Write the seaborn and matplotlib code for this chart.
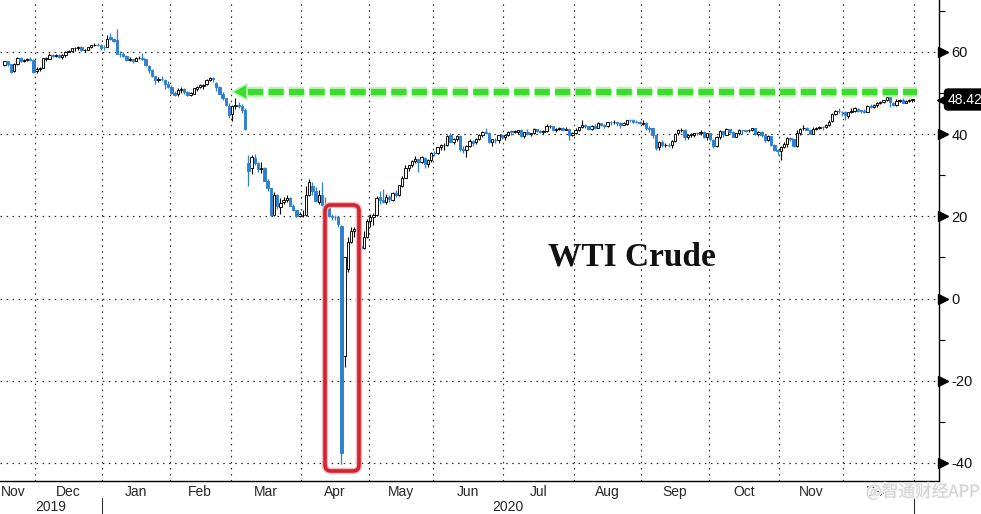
import numpy as np
import pandas as pd
import matplotlib
matplotlib.use("Agg")
import matplotlib.pyplot as plt
import matplotlib.transforms as mtransforms
from matplotlib.patches import FancyBboxPatch, Polygon
import matplotlib.patheffects as pe
import seaborn as sns

# ---------------- data (WTI Crude, daily candles) ----------------
holidays = ["2019-11-28", "2019-12-25", "2020-01-01", "2020-01-20", "2020-02-17",
            "2020-04-10", "2020-05-25", "2020-07-03", "2020-09-07", "2020-11-26",
            "2020-12-25"]
start_date = "2019-11-15"
end_date = "2020-12-31"

opens = [
    # Nov 2019
    56.90, 57.70, 57.00, 55.30, 57.10, 58.50, 57.80, 58.00, 58.40, 58.10,
    # Dec 2019
    55.30, 55.90, 56.20, 58.40, 58.40, 59.20, 59.00, 59.20, 58.80, 59.20, 60.10,
    60.20, 60.90, 60.90, 61.20, 60.40, 60.50, 61.10, 61.70, 61.70, 61.70,
    # Jan 2020
    61.20, 61.20, 63.70, 63.20, 62.80, 59.60, 59.50, 59.00, 58.10, 58.20, 57.80,
    58.50, 58.60, 58.30, 56.70, 55.60, 54.10, 53.10, 53.50, 53.30, 52.10,
    # Feb
    51.60, 50.10, 49.70, 50.80, 50.90, 50.30, 49.60, 49.90, 51.10, 51.40,
    51.80, 52.10, 53.30, 53.70, 52.50, 51.40, 49.90, 48.70, 46.90,
    # Mar
    44.90, 46.80, 47.10, 46.80, 45.90, 32.90, 31.70, 34.30, 33.00, 31.50, 31.70,
    28.70, 26.90, 20.40, 25.20, 22.40, 23.40, 24.00, 24.50, 22.60, 21.50, 20.10,
    # Apr
    20.30, 20.30, 25.30, 27.50, 26.10, 23.60, 25.10, 22.80, 22.40, 20.10, 19.90,
    19.80, 17.70, -14.00, 7.20, 13.80, 16.50, 16.90, 12.80, 12.30, 15.10,
    # May
    18.80, 19.80, 20.40, 24.60, 24.00, 23.60, 24.70, 24.10, 25.80, 25.30,
    27.50, 29.40, 31.80, 32.50, 33.50, 33.90, 33.30, 34.30, 32.80, 33.70,
    # Jun
    35.50, 35.40, 36.80, 37.30, 37.40, 39.80, 38.20, 38.90, 39.60, 36.30, 36.20,
    37.10, 38.40, 38.00, 38.80, 39.80, 40.50, 40.40, 38.00, 38.70, 38.50, 39.70,
    # Jul
    39.30, 39.80, 40.70, 40.60, 40.60, 40.90, 39.60, 40.60, 40.10, 40.30, 41.20,
    40.70, 40.60, 40.80, 41.90, 41.90, 41.10, 41.30, 41.60, 41.00, 41.30, 39.90,
    # Aug
    40.30, 41.00, 41.70, 42.20, 41.90, 41.20, 41.90, 41.60, 42.70, 42.20, 42.00,
    42.90, 42.90, 42.90, 42.80, 42.30, 42.60, 43.40, 43.40, 43.00, 43.00,
    # Sep
    42.60, 42.80, 41.50, 41.40, 39.80, 36.80, 38.00, 37.30, 37.30, 37.30, 38.30,
    40.20, 41.00, 41.10, 39.30, 39.80, 39.90, 40.30, 40.30, 40.60, 39.30,
    # Oct
    40.20, 38.70, 37.10, 39.20, 40.70, 39.90, 41.20, 40.60, 39.40, 40.20, 41.00,
    40.90, 40.90, 41.00, 41.40, 40.00, 40.60, 39.80, 38.60, 39.60, 37.40, 36.20,
    # Nov
    35.80, 36.80, 37.70, 39.10, 38.80, 37.10, 40.30, 41.40, 41.40, 41.10,
    40.10, 41.30, 41.40, 41.80, 41.70, 42.20, 43.10, 44.90, 45.70, 45.50,
    # Dec
    45.30, 44.50, 45.30, 45.60, 46.20, 45.80, 45.60, 45.50, 46.80, 46.60, 47.00,
    47.60, 47.80, 48.40, 49.10, 47.70, 47.00, 48.10, 48.20, 47.60, 48.00, 48.40,
]

highs = [
    # Nov 2019
    57.85, 57.90, 57.20, 57.30, 58.70, 58.70, 58.30, 58.50, 58.70, 58.20,
    # Dec 2019
    56.30, 56.30, 58.60, 58.80, 59.80, 59.40, 59.40, 59.40, 59.50, 60.30, 60.50,
    61.00, 61.20, 61.40, 61.40, 60.70, 61.20, 61.80, 62.30, 62.30, 61.90,
    # Jan 2020
    61.60, 64.10, 64.70, 63.50, 65.65, 60.30, 59.90, 59.30, 58.70, 58.40, 58.90,
    59.00, 59.70, 58.40, 56.80, 55.80, 54.20, 53.90, 54.10, 53.40, 52.90,
    # Feb
    51.90, 50.60, 51.30, 51.60, 51.20, 50.50, 50.30, 51.30, 51.70, 52.20,
    52.30, 53.50, 54.00, 53.90, 52.70, 51.80, 50.30, 48.80, 47.50,
    # Mar
    47.20, 48.70, 47.80, 47.30, 46.40, 34.90, 34.90, 35.30, 33.20, 33.20, 31.90,
    29.10, 27.00, 26.00, 25.50, 24.50, 24.80, 25.20, 24.80, 22.90, 21.60, 21.00,
    # Apr
    21.60, 27.40, 29.10, 28.30, 27.20, 26.40, 28.40, 24.70, 22.60, 20.50, 20.30,
    20.00, 17.90, 10.18, 15.00, 17.50, 17.50, 17.00, 13.60, 16.50, 19.30,
    # May
    20.50, 20.80, 25.00, 26.10, 26.70, 25.40, 25.10, 26.00, 26.50, 27.60,
    29.90, 32.50, 32.60, 33.60, 34.70, 34.00, 34.80, 34.50, 34.00, 35.60,
    # Jun
    35.90, 36.90, 37.70, 37.80, 39.70, 40.40, 39.00, 39.80, 39.60, 37.10, 37.40,
    38.90, 38.50, 39.00, 40.00, 40.70, 41.60, 40.50, 38.90, 39.00, 39.80, 40.00,
    # Jul
    40.10, 40.80, 41.00, 41.00, 41.00, 41.30, 40.60, 41.30, 40.40, 41.40, 41.30,
    40.90, 40.90, 42.50, 42.30, 42.00, 41.50, 41.80, 41.70, 41.70, 41.30, 40.50,
    # Aug
    41.40, 41.80, 43.50, 42.40, 42.00, 42.30, 42.40, 42.90, 42.80, 42.40, 42.90,
    43.10, 43.40, 43.00, 42.90, 43.00, 43.50, 43.80, 43.70, 43.40, 43.20,
    # Sep
    43.50, 42.90, 41.90, 41.50, 39.80, 38.40, 38.50, 37.90, 37.90, 38.50, 40.30,
    41.20, 41.50, 41.20, 40.00, 40.30, 40.40, 40.50, 40.90, 40.80, 40.40,
    # Oct
    40.40, 38.90, 39.50, 40.90, 40.80, 41.40, 41.30, 40.70, 40.30, 41.20, 41.10,
    41.00, 41.30, 41.60, 41.50, 40.80, 40.70, 39.90, 39.80, 39.60, 37.50, 36.30,
    # Nov
    37.20, 38.10, 39.40, 39.40, 38.90, 41.00, 41.60, 42.30, 41.70, 41.30,
    41.70, 41.70, 42.00, 41.90, 42.40, 43.40, 45.20, 46.00, 46.30, 45.60,
    # Dec
    45.60, 45.40, 46.30, 46.70, 46.40, 45.90, 46.20, 47.00, 47.30, 47.40, 47.80,
    48.00, 48.40, 49.30, 49.20, 47.90, 48.60, 48.60, 48.90, 48.30, 48.50, 48.60,
]

lows = [
    # Nov 2019
    56.60, 56.50, 55.00, 55.20, 56.90, 57.50, 57.50, 57.70, 57.80, 55.00,
    # Dec 2019
    55.00, 55.40, 56.00, 57.80, 58.30, 58.80, 58.70, 58.50, 58.40, 58.90, 59.90,
    60.00, 60.20, 60.60, 60.20, 60.10, 60.40, 61.00, 61.40, 61.50, 60.60,
    # Jan 2020
    60.60, 61.10, 62.80, 62.40, 59.60, 58.80, 58.80, 57.90, 57.70, 57.40, 57.70,
    58.20, 58.00, 56.60, 55.00, 53.90, 52.10, 52.60, 52.90, 50.90, 51.20,
    # Feb
    49.90, 49.30, 49.40, 50.10, 49.90, 49.30, 49.40, 49.80, 50.40, 51.20,
    51.00, 52.00, 52.90, 52.80, 50.50, 49.70, 48.40, 46.90, 44.00,
    # Mar
    43.30, 46.20, 46.40, 45.20, 41.10, 27.30, 30.30, 32.50, 30.70, 30.60, 28.50,
    26.10, 20.10, 20.00, 21.70, 20.50, 23.00, 23.40, 22.50, 21.30, 19.90, 19.90,
    # Apr
    19.90, 20.10, 24.90, 25.30, 23.40, 23.00, 22.60, 21.80, 19.90, 19.20, 19.20,
    17.30, -40.32, -16.70, 6.50, 13.50, 15.10, 12.00, 10.10, 12.00, 14.80,
    # May
    17.30, 18.00, 20.00, 23.00, 23.30, 23.00, 23.50, 23.80, 24.80, 24.90,
    27.20, 29.30, 31.00, 31.90, 33.10, 30.70, 32.90, 31.70, 32.10, 33.20,
    # Jun
    34.80, 35.10, 36.10, 36.10, 37.20, 38.00, 37.50, 38.30, 36.00, 35.50, 34.40,
    37.00, 37.20, 37.60, 38.60, 39.30, 40.00, 37.80, 37.10, 37.90, 37.90, 38.80,
    # Jul
    38.70, 39.60, 39.80, 40.20, 40.10, 39.40, 39.10, 39.80, 39.60, 40.10, 40.50,
    40.30, 40.00, 40.60, 41.40, 40.80, 40.60, 40.90, 40.90, 40.90, 38.70, 39.50,
    # Aug
    40.00, 40.70, 41.60, 41.60, 40.90, 41.10, 41.20, 41.40, 41.90, 41.50, 41.70,
    42.30, 42.40, 42.00, 41.50, 42.20, 42.30, 43.00, 42.70, 42.70, 42.40,
    # Sep
    42.30, 41.10, 40.60, 39.00, 36.10, 36.20, 37.00, 36.90, 36.80, 36.60, 38.10,
    39.80, 40.60, 38.60, 38.90, 39.40, 39.20, 39.70, 39.80, 39.00, 38.50,
    # Oct
    38.40, 36.60, 36.80, 38.90, 39.40, 39.70, 40.40, 39.20, 39.20, 39.90, 40.00,
    40.50, 40.60, 40.70, 39.90, 39.60, 39.40, 38.20, 38.40, 37.20, 35.90, 34.90,
    # Nov
    33.60, 36.60, 37.00, 38.30, 37.00, 37.00, 39.70, 41.00, 40.90, 40.00,
    40.00, 40.90, 41.20, 41.00, 41.50, 42.00, 42.90, 44.70, 45.20, 44.40,
    # Dec
    43.50, 43.90, 45.20, 45.40, 45.50, 45.20, 45.20, 45.40, 46.40, 46.40, 46.50,
    47.30, 47.60, 48.10, 46.70, 46.80, 46.90, 47.90, 47.50, 47.50, 47.80, 47.90,
]

closes = [
    # Nov 2019
    57.72, 57.05, 55.21, 57.11, 58.58, 57.77, 58.01, 58.41, 58.11, 55.17,
    # Dec 2019
    55.96, 56.10, 58.43, 58.43, 59.20, 59.02, 59.24, 58.76, 59.18, 60.07, 60.21,
    60.94, 60.93, 61.22, 60.44, 60.52, 61.11, 61.68, 61.72, 61.68, 61.06,
    # Jan 2020
    61.18, 63.05, 63.27, 62.70, 59.61, 59.56, 59.04, 58.08, 58.23, 57.81, 58.52,
    58.54, 58.34, 56.74, 55.59, 54.19, 53.14, 53.48, 53.33, 52.14, 51.56,
    # Feb
    50.11, 49.61, 50.75, 50.95, 50.32, 49.57, 49.94, 51.17, 51.42, 52.05,
    52.05, 53.29, 53.78, 53.38, 51.43, 49.90, 48.73, 47.09, 44.76,
    # Mar
    46.75, 47.18, 46.78, 45.90, 41.28, 31.13, 34.36, 32.98, 31.50, 31.73, 28.70,
    26.95, 20.37, 25.22, 22.43, 23.36, 24.01, 24.49, 22.60, 21.51, 20.09, 20.48,
    # Apr
    20.31, 25.32, 28.34, 26.08, 23.63, 25.09, 22.76, 22.41, 20.11, 19.87, 19.87,
    18.27, -37.63, 10.01, 13.78, 16.50, 16.94, 12.78, 12.34, 15.06, 18.84,
    # May
    19.78, 20.39, 24.56, 23.99, 23.55, 24.74, 24.14, 25.78, 25.29, 27.56,
    29.43, 31.82, 32.50, 33.49, 33.92, 33.25, 34.35, 32.81, 33.71, 35.49,
    # Jun
    35.44, 36.81, 37.29, 37.41, 39.55, 38.19, 38.94, 39.60, 36.34, 36.26, 37.12,
    38.38, 37.96, 38.84, 39.75, 40.46, 40.37, 38.01, 38.72, 38.49, 39.70, 39.27,
    # Jul
    39.82, 40.65, 40.63, 40.62, 40.90, 39.62, 40.55, 40.10, 40.29, 41.20, 40.75,
    40.59, 40.81, 41.96, 41.90, 41.07, 41.29, 41.60, 41.04, 41.27, 39.92, 40.27,
    # Aug
    41.01, 41.70, 42.19, 41.95, 41.22, 41.94, 41.61, 42.67, 42.24, 42.01, 42.89,
    42.89, 42.93, 42.82, 42.34, 42.62, 43.35, 43.39, 43.04, 42.97, 42.61,
    # Sep
    42.76, 41.51, 41.37, 39.77, 36.76, 38.05, 37.30, 37.33, 37.26, 38.28, 40.16,
    40.97, 41.11, 39.31, 39.80, 39.93, 40.31, 40.25, 40.60, 39.29, 40.22,
    # Oct
    38.72, 37.05, 39.22, 40.67, 39.95, 41.19, 40.60, 39.43, 40.20, 41.04, 40.96,
    40.88, 41.06, 41.46, 40.03, 40.64, 39.85, 38.56, 39.57, 37.39, 36.17, 35.79,
    # Nov
    36.81, 37.66, 39.15, 38.79, 37.14, 40.29, 41.36, 41.45, 41.12, 40.13,
    41.34, 41.43, 41.82, 41.74, 42.15, 43.06, 44.91, 45.71, 45.53, 45.34,
    # Dec
    44.55, 45.28, 45.64, 46.26, 45.76, 45.60, 45.52, 46.78, 46.57, 46.99, 47.62,
    47.82, 48.36, 49.10, 47.74, 47.02, 48.12, 48.23, 47.62, 48.00, 48.40, 48.42,
]

y_major = [-40, -20, 0, 20, 40, 60]
y_minor = [-30, -10, 10, 30, 50, 70]
last_label = "48.42"
arrow_level = 50.3
title_text = "WTI Crude"
watermark = "@智通财经APP"

# ---------------- figure ----------------
sns.set_theme(style="white")
plt.rcParams["font.family"] = ["Liberation Sans", "DejaVu Sans"]
plt.rcParams["axes.unicode_minus"] = False

W, H = 981, 514
fig = plt.figure(figsize=(W / 100, H / 100), dpi=100)
fig.patch.set_facecolor("white")
ax_bottom_px = 481
ax_right_px = 939
ax = fig.add_axes([0, 1 - ax_bottom_px / H, ax_right_px / W, ax_bottom_px / H])
ax.set_facecolor("white")

dates = pd.bdate_range(start_date, end_date, freq="C", holidays=holidays)
df = pd.DataFrame({"date": dates, "open": opens, "high": highs,
                   "low": lows, "close": closes})
df["idx"] = np.arange(len(df))
df["up"] = df["close"] >= df["open"]

blue = "#2f7fd1"
upd = df[df["up"]]
dnd = df[~df["up"]]

# wicks
ax.vlines(upd["idx"], upd["low"], upd["high"], color="black", lw=0.8, zorder=3)
ax.vlines(dnd["idx"], dnd["low"], dnd["high"], color=blue, lw=0.9, zorder=3)
# bodies
ax.bar(upd["idx"], (upd["close"] - upd["open"]).clip(lower=0.12), bottom=upd["open"],
       width=0.75, color="white", edgecolor="black", linewidth=0.65, zorder=4)
ax.bar(dnd["idx"], dnd["close"] - dnd["open"], bottom=dnd["open"],
       width=0.75, color=blue, edgecolor=blue, linewidth=0.65, zorder=4)

xlim = (-1.4, 291.3)
ylim = (-44.38, 72.65)
ax.set_xlim(*xlim)
ax.set_ylim(*ylim)

# month boundaries
months = df["date"].dt.month.values
bounds = [i - 0.5 for i in range(1, len(df)) if months[i] != months[i - 1]]
bounds.append(len(df) - 0.5)
month_names = [df["date"].iloc[0].strftime("%b")] + \
    [df["date"].iloc[int(b + 0.5)].strftime("%b") for b in bounds[:-1]]

# spines
for s in ["top", "left"]:
    ax.spines[s].set_visible(False)
for s in ["right", "bottom"]:
    ax.spines[s].set_visible(True)
    ax.spines[s].set_color("black")
    ax.spines[s].set_linewidth(1.0)

# y axis on right
ax.yaxis.tick_right()
ax.set_yticks(y_major)
ax.set_yticklabels([str(v) for v in y_major])
ax.set_yticks(y_minor, minor=True)
ax.tick_params(axis="y", which="major", length=0, pad=9, labelsize=10.5,
               labelcolor="#111111")
ax.tick_params(axis="y", which="minor", length=4, width=0.8, color="black",
               direction="out")
tri = mtransforms.blended_transform_factory(ax.transAxes, ax.transData)
ax.plot([1 + 3.6 / ax_right_px] * len(y_major), y_major, ls="none", marker=">",
        ms=6.5, color="black", transform=tri, clip_on=False, zorder=6)

# x axis
ax.set_xticks(bounds)
ax.set_xticklabels([])
ax.tick_params(axis="x", which="major", length=5, width=0.8, color="black",
               direction="out")

# grid (dotted)
ax.grid(True, which="major", axis="both", color="#2a2a2a", lw=0.85,
        ls=(0, (1.3, 3.8)))
ax.set_axisbelow(True)

# month & year labels
bt = mtransforms.blended_transform_factory(ax.transData, fig.transFigure)
edges = [xlim[0]] + bounds
for k, name in enumerate(month_names):
    if k == 0:
        fig.text(1 / W, 1 - 492 / H, name, ha="left", va="center", fontsize=10)
    else:
        cx = (edges[k] + edges[k + 1]) / 2
        ax.text(cx, 1 - 492 / H, name, ha="center", va="center", fontsize=10,
                transform=bt, clip_on=False)
jan_b = bounds[month_names.index("Jan") - 1]
ax.text((xlim[0] + jan_b) / 2, 1 - 507 / H, "2019", ha="center", va="center",
        fontsize=10, transform=bt, clip_on=False)
ax.text((jan_b + bounds[-1]) / 2, 1 - 507 / H, "2020", ha="center", va="center",
        fontsize=10, transform=bt, clip_on=False)
for xb in [jan_b, bounds[-1]]:
    ax.plot([xb, xb], [1 - 498 / H, 0], color="#333333", lw=0.8, transform=bt,
            clip_on=False)

# green dashed arrow
green = "#3bdc2e"
glow = [pe.Stroke(linewidth=7.5, foreground="#bff3b6"), pe.Normal()]
px_x = (xlim[1] - xlim[0]) / ax_right_px
px_y = (ylim[1] - ylim[0]) / ax_bottom_px
tip_x = xlim[0] + 232 * px_x
base_x = xlim[0] + 247 * px_x
end_x = xlim[0] + 917 * px_x
ax.plot([base_x + 1 * px_x, end_x], [arrow_level, arrow_level], color=green, lw=4.4,
        ls=(0, (2.5, 0.85)), solid_capstyle="butt", dash_capstyle="butt", zorder=7,
        path_effects=glow)
head = Polygon([[tip_x, arrow_level], [base_x, arrow_level + 8 * px_y],
                [base_x, arrow_level - 8 * px_y]], closed=True, fc=green,
               ec="#bff3b6", lw=1.2, zorder=7)
ax.add_patch(head)

# red highlight box
x0 = xlim[0] + 325 * px_x
x1 = xlim[0] + 359 * px_x
yb = ylim[1] - 471 * px_y
yt = ylim[1] - 205 * px_y
box = FancyBboxPatch((x0, yb), x1 - x0, yt - yb,
                     boxstyle="round,pad=0,rounding_size=%f" % (6 * px_x),
                     mutation_aspect=px_y / px_x, fc="none", ec="#d3232e", lw=2.6,
                     zorder=8,
                     path_effects=[pe.Stroke(linewidth=4.5, foreground="#f2b8bd"),
                                   pe.Normal()])
ax.add_patch(box)

# title text
fig.text(632 / W, 1 - 265 / H, title_text, ha="center", va="baseline",
         fontsize=24, fontweight="bold", family=["Liberation Serif", "DejaVu Serif"],
         color="#111111")

# last value label
ax.plot([1 + 4 / ax_right_px], [float(last_label)], ls="none", marker="<", ms=9,
        color="black", transform=tri, clip_on=False, zorder=9)
fig.text(948 / W, 1 - 99.5 / H, last_label, ha="left", va="center", fontsize=10,
         color="white", zorder=10,
         bbox=dict(boxstyle="round,pad=0.25", fc="black", ec="black"))

# watermark
fig.text(866 / W, 1 - 492 / H, watermark, ha="left", va="center", fontsize=12,
         color="#d2d2d2", family=["Noto Sans CJK SC", "DejaVu Sans"],
         path_effects=[pe.withStroke(linewidth=1.5, foreground="#f6f6f6")])

fig.savefig("out.png", dpi=100, facecolor="white")
